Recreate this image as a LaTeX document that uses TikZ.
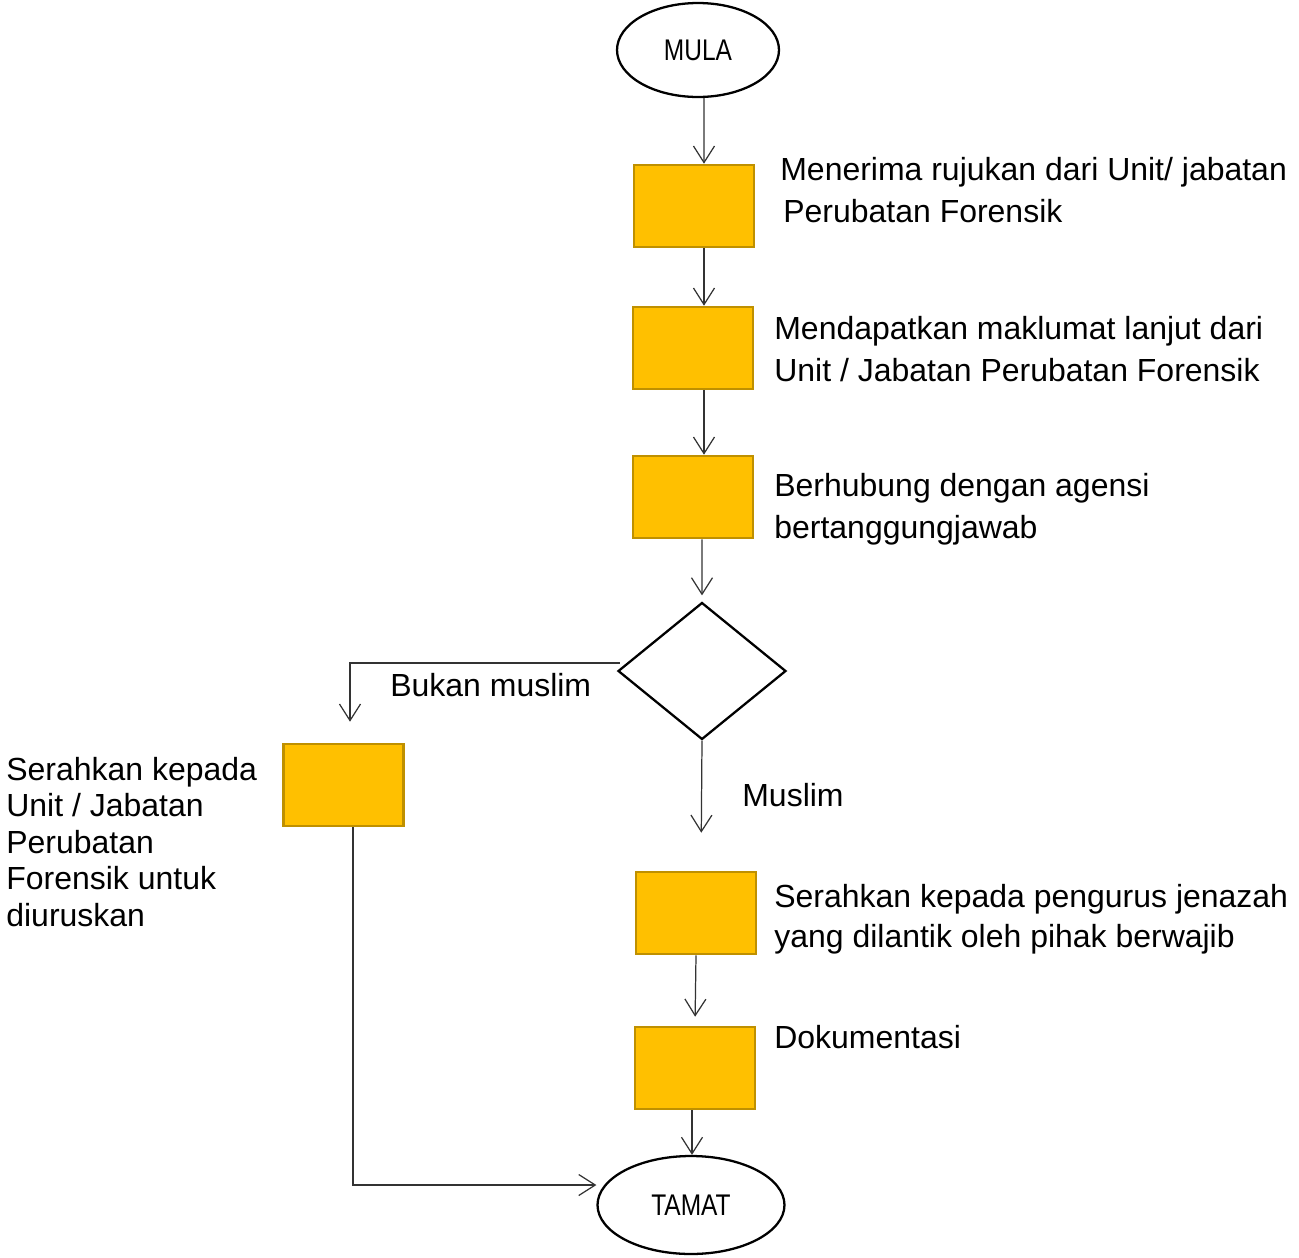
\documentclass[tikz,border=0pt]{standalone}
\usepackage{fontspec}
\setmainfont{Liberation Sans}
\newfontfamily\narrowsans[FakeStretch=0.82]{Liberation Sans}
\usetikzlibrary{shapes.geometric,arrows.meta}
\definecolor{boxfill}{HTML}{FFC000}
\definecolor{boxline}{HTML}{BF9000}

\begin{document}
\begin{tikzpicture}[x=0.02cm,y=-0.02cm,
    terminal/.style={ellipse,draw=black,line width=1.3pt,font=\narrowsans\fontsize{17}{20}\selectfont},
    stepbox/.style={rectangle,draw=boxline,fill=boxfill,line width=1.5pt,minimum width=2.4cm,minimum height=1.64cm,inner sep=0pt},
    lbl/.style={anchor=base west,align=left,inner sep=0pt,font=\fontsize{18.2}{23.9}\selectfont},
    arr/.style={draw=black!80,line width=0.7pt,-{Straight Barb[length=0.33cm,width=0.42cm]}}]
    \useasboundingbox (0,0) rectangle (1299,1258);
    % terminals
    \node[terminal,minimum width=3.24cm,minimum height=1.88cm] (mula) at (698,50) {MULA};
    \node[terminal,minimum width=3.74cm,minimum height=1.96cm] (tamat) at (691,1205) {TAMAT};
    % steps
    \node[stepbox] (b1) at (694,206) {};
    \node[stepbox] (b2) at (693,348) {};
    \node[stepbox] (b3) at (693,497) {};
    \node[diamond,draw=black,line width=1.3pt,minimum width=3.36cm,minimum height=2.74cm,inner sep=0pt] (dec) at (702,671) {};
    \node[stepbox] (b4) at (343.5,785) {};
    \node[stepbox] (b5) at (696,913) {};
    \node[stepbox] (b6) at (695,1068) {};
    % texts (placed at the baseline of their last line)
    \node[lbl] (t1) at (780,222) {Menerima rujukan dari Unit/ jabatan\\\hspace*{0.06cm}Perubatan Forensik};
    \node[lbl] (t2) at (774,381) {Mendapatkan maklumat lanjut dari\\Unit / Jabatan Perubatan Forensik};
    \node[lbl] (t3) at (774,538) {Berhubung dengan agensi\\bertanggungjawab};
    \node[lbl] (bukan) at (390,696) {Bukan muslim};
    \node[lbl] (muslim) at (742,806) {Muslim};
    \node[lbl,font=\fontsize{18.2}{20.7}\selectfont] (t4) at (6,926) {Serahkan kepada\\Unit / Jabatan\\Perubatan\\Forensik untuk\\diuruskan};
    \node[lbl,font=\fontsize{18.2}{22.7}\selectfont] (t5) at (774,947) {Serahkan kepada pengurus jenazah\\yang dilantik oleh pihak berwajib};
    \node[lbl] (t6) at (774,1048) {Dokumentasi};
    % connectors
    \draw[arr] ([xshift=0.12cm]mula.south) -- ([xshift=0.2cm]b1.north);
    \draw[arr] ([xshift=0.2cm]b1.south) -- ([xshift=0.22cm]b2.north);
    \draw[arr] ([xshift=0.22cm]b2.south) -- ([xshift=0.22cm]b3.north);
    \draw[arr] ([xshift=0.18cm]b3.south) -- ([yshift=0.12cm]dec.north);
    \draw[arr,shorten >=0.42cm] ([yshift=0.16cm,xshift=0.06cm]dec.west) -| ([xshift=0.13cm]b4.north);
    \draw[arr,shorten >=0.76cm] (dec.south) -- ([xshift=0.1cm]b5.north);
    \draw[arr,shorten >=0.18cm] (b5.south) -- (b6.north);
    \draw[arr] ([xshift=-0.06cm]b6.south) -- ([xshift=-0.06cm]b6.south |- tamat.north);
    \draw[arr] ([xshift=0.19cm]b4.south) |- ([yshift=0.4cm]tamat.west);
\end{tikzpicture}
\end{document}
